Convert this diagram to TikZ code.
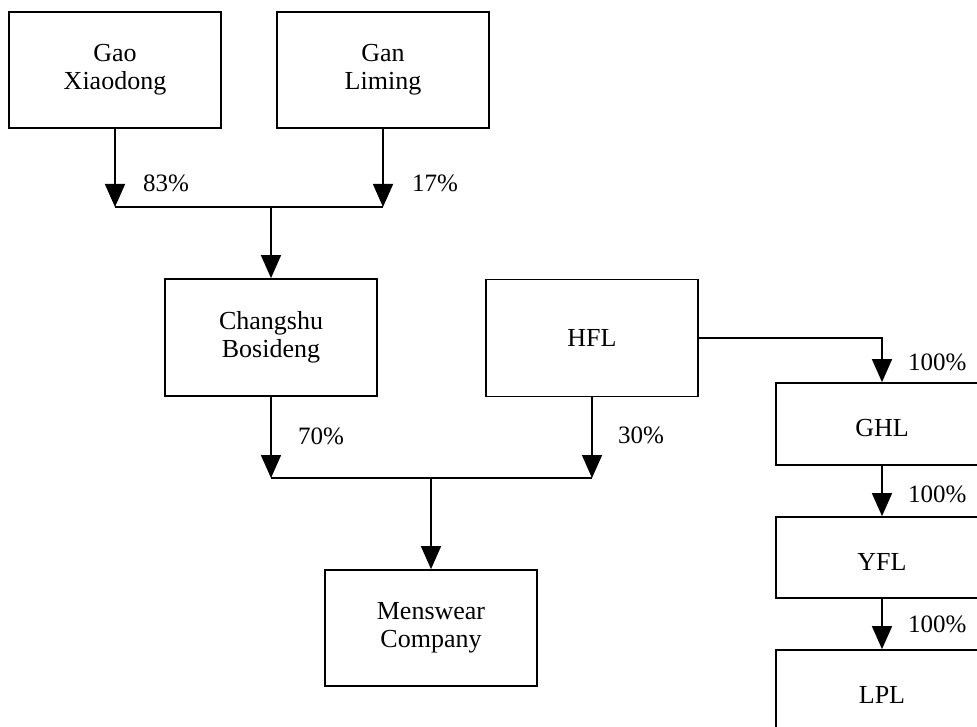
\documentclass[tikz,border=0pt]{standalone}
\usepackage{fontspec}
\setmainfont{Liberation Serif}
\usetikzlibrary{arrows.meta}
\begin{document}
\begin{tikzpicture}[x=1pt,y=-1pt,
  box/.style={draw,line width=1.7pt,inner sep=0pt,minimum width=212pt,align=center,
    font=\fontsize{26}{28}\selectfont},
  lowtext/.style={text height=25pt,text depth=0pt},
  conn/.style={line width=1.5pt},
  arr/.style={line width=1.5pt,-{Triangle[width=20pt,length=23pt]}},
  pct/.style={anchor=base west,inner sep=0pt,font=\fontsize{25}{28}\selectfont}]
\useasboundingbox (0,0) rectangle (977,727);
\clip (0,0) rectangle (977,727);
% nodes
\node[box,minimum height=116pt] (gao) at (115,70) {Gao\\Xiaodong};
\node[box,minimum height=116pt] (gan) at (383,70) {Gan\\Liming};
\node[box,minimum height=117pt] (chang) at (271,337.5) {Changshu\\Bosideng};
\node[box,minimum height=117pt] (hfl) at (592,338) {HFL};
\node[box,minimum height=116pt] (mens) at (431,628) {Menswear\\Company};
\node[box,lowtext,minimum height=82pt] (ghl) at (882,424) {GHL};
\node[box,lowtext,minimum height=81pt] (yfl) at (882,557.5) {YFL};
\node[box,minimum height=90pt] (lpl) at (882,695) {LPL};
% junctions
\coordinate (j1) at (271,207);
\coordinate (j2) at (431,478);
% top group
\draw[arr] (gao.south) -- (gao.south |- j1);
\draw[arr] (gan.south) -- (gan.south |- j1);
\draw[conn] (gao.south |- j1) -- (gan.south |- j1);
\draw[arr] (chang.north |- j1) -- (chang.north);
% middle group
\draw[arr] (chang.south) -- (chang.south |- j2);
\draw[arr] (hfl.south) -- (hfl.south |- j2);
\draw[conn] (chang.south |- j2) -- (hfl.south |- j2);
\draw[arr] (mens.north |- j2) -- (mens.north);
% right chain
\draw[arr] (hfl.east) -- (ghl.north |- hfl.east) -- (ghl.north);
\draw[arr] (ghl.south) -- (yfl.north);
\draw[arr] (yfl.south) -- (lpl.north);
% labels
\node[pct] (p83) at (143,192) {83\%};
\node[pct] (p17) at (412,192) {17\%};
\node[pct] (p70) at (298,444) {70\%};
\node[pct] (p30) at (618,443) {30\%};
\node[pct] (p1) at (908,370) {100\%};
\node[pct] (p2) at (908,502) {100\%};
\node[pct] (p3) at (908,632) {100\%};
\end{tikzpicture}
\end{document}
